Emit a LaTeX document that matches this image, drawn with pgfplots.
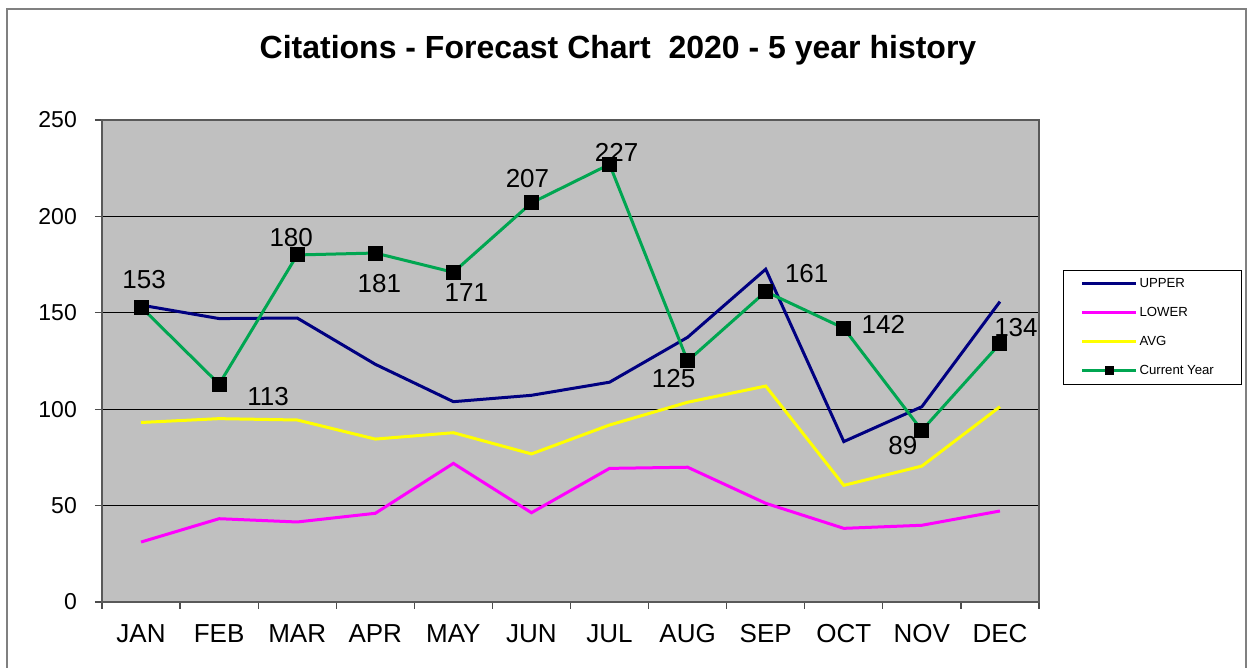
\documentclass[border=0pt]{standalone}
\usepackage{pgfplots}
\pgfplotsset{compat=1.18}
\usepackage{pgfplotstable}
\usepackage{fontspec}
\setmainfont{Liberation Sans}

\definecolor{upper}{HTML}{000080}
\definecolor{lower}{HTML}{FF00FF}
\definecolor{avg}{HTML}{FFFF00}
\definecolor{cur}{HTML}{00A651}
\definecolor{plotbg}{HTML}{C0C0C0}

% month index, value, label offset (pt)
\pgfplotstableread{
x  upper  lower  avg    cur  dx     dy
0  154.0  31.1   93.1   153  1.5    13.5
1  147.0  43.2   95.1   113  24.5   -6
2  147.3  41.5   94.4   180  -3     8.5
3  123.3  46.0   84.5   181  2      -15.5
4  103.9  71.9   87.8   171  6.5    -10.25
5  107.2  46.3   76.8   207  -2     12
6  114.0  69.3   91.8   227  3.5    6
7  137.3  69.9   103.6  125  -7     -9
8  172.6  51.2   112.0  161  20.5   9
9  83.2   38.2   60.5   142  19.75  1.75
10 101.3  39.8   70.5   89   -9.5   -7.75
11 155.8  47.2   101.3  134  8      8
}\datatable

\begin{document}
\begin{tikzpicture}
\path[use as bounding box] (-51pt,-33pt) rectangle (572.5pt,301pt);
\draw[gray, line width=0.75pt] (-47.5pt,-33pt) -- (-47.5pt,296.5pt) -- (572pt,296.5pt) -- (572pt,-33pt);
\begin{axis}[
    scale only axis,
    width=468.5pt,
    height=241pt,
    xmin=-0.5, xmax=11.5,
    ymin=0, ymax=250,
    xtick={-0.5,0.5,...,11.5},
    x tick label as interval,
    xticklabels={JAN,FEB,MAR,APR,MAY,JUN,JUL,AUG,SEP,OCT,NOV,DEC},
    ytick={0,50,...,250},
    tick pos=left,
    tick align=outside,
    major tick length=3.5pt,
    tick style={gray!60!black, line width=0.6pt},
    xticklabel style={font=\fontsize{13}{15}\selectfont, yshift=-3.5pt},
    yticklabel style={font=\fontsize{11.5}{14}\selectfont, xshift=-5pt},
    /pgf/number format/assume math mode=true,
    ymajorgrids=true,
    grid style={black, line width=0.5pt},
    axis line style={gray!70!black, line width=1pt},
    axis background/.style={fill=plotbg},
    title={Citations - Forecast Chart~~2020 - 5 year history},
    title style={at={(0.5507,1.1515)}, anchor=center, yshift=-7.5pt, font=\fontsize{16}{19}\bfseries},
    legend style={
        at={(1.0256,0.6888)}, anchor=north west,
        draw=black, line width=0.5pt,
        font=\fontsize{6.6}{8}\selectfont,
        inner xsep=8.5pt, inner ysep=3pt,
        row sep=7pt,
        nodes={inner sep=1pt, text height=4.5pt, text depth=1pt},
    },
    legend cell align=left,
    legend image code/.code={
        \draw[mark repeat=2, mark phase=2, line width=1.5pt, #1] plot coordinates {(0pt,0pt) (13.5pt,0pt) (27pt,0pt)};
    },
    line width=1.5pt,
    clip=false,
]
\addplot[upper, no marks] table[x=x, y=upper] {\datatable};
\addlegendentry{UPPER}
\addplot[lower, no marks] table[x=x, y=lower] {\datatable};
\addlegendentry{LOWER}
\addplot[avg, no marks] table[x=x, y=avg] {\datatable};
\addlegendentry{AVG}
\addplot[cur, mark=square*, mark size=3.5pt,
    mark options={fill=black, draw=black, line width=0pt},
    legend image post style={mark size=2pt},
    visualization depends on={\thisrow{dx} \as \dx},
    visualization depends on={\thisrow{dy} \as \dy},
    nodes near coords,
    nodes near coords style={anchor=center, xshift=\dx pt, yshift=\dy pt,
        font=\fontsize{13}{15}\selectfont, text=black, inner sep=0pt},
] table[x=x, y=cur] {\datatable};
\addlegendentry{Current Year\kern4.5pt\null}
\end{axis}
\end{tikzpicture}
\end{document}
